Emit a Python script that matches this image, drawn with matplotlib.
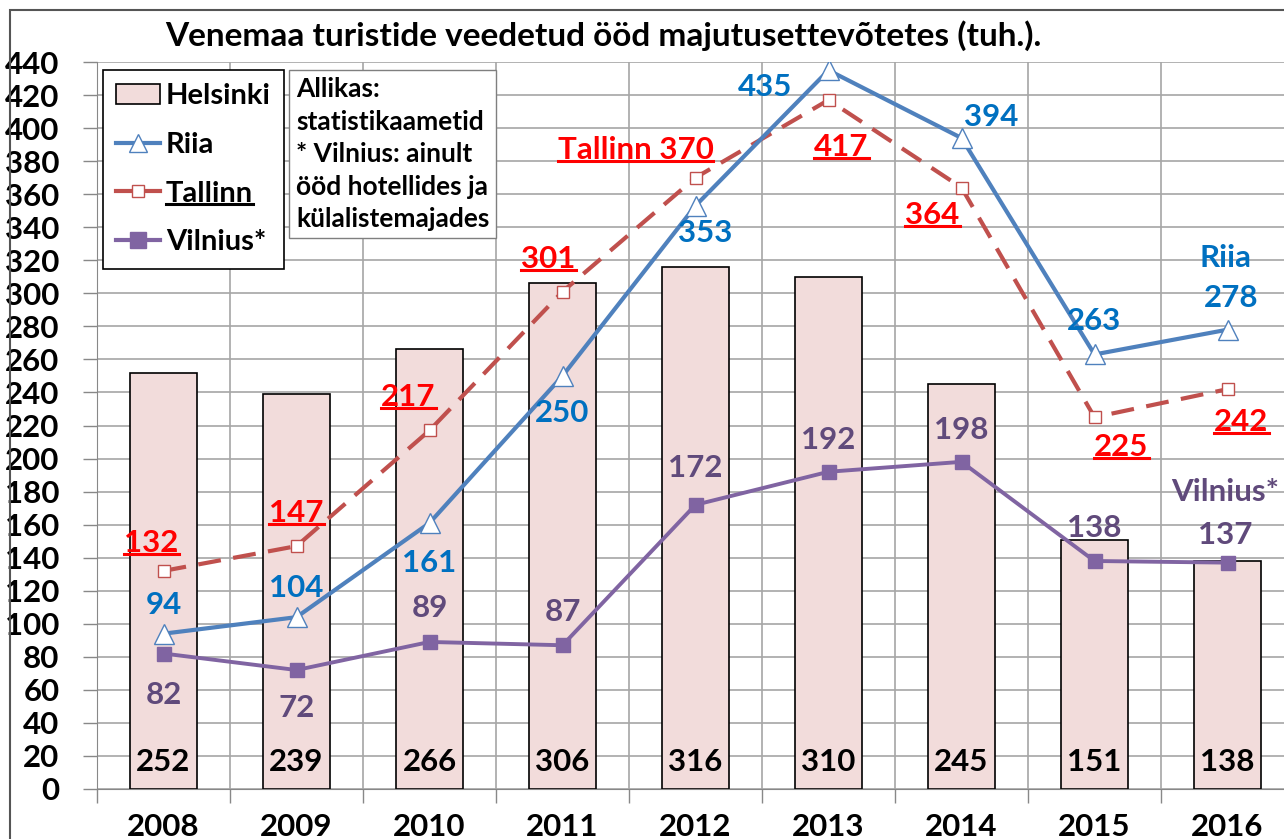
import numpy as np
import matplotlib
matplotlib.use("Agg")
import matplotlib.pyplot as plt
from matplotlib.patches import Patch, Rectangle
from matplotlib.lines import Line2D

plt.rcParams['font.family'] = ['Lato', 'DejaVu Sans']
plt.rcParams['font.weight'] = 'bold'

# data
years = ['2008', '2009', '2010', '2011', '2012', '2013', '2014', '2015', '2016']
helsinki = [252, 239, 266, 306, 316, 310, 245, 151, 138]
riia = [94, 104, 161, 250, 353, 435, 394, 263, 278]
tallinn = [132, 147, 217, 301, 370, 417, 364, 225, 242]
vilnius = [82, 72, 89, 87, 172, 192, 198, 138, 137]

# label offsets in pixels (dx, dy)
riia_off = [(0, 29), (0, 29), (0, -40), (0, -37), (10, -27), (-63, -17), (30, 21), (0, 33), (4, 32)]
tallinn_off = [(-12, 28), (0, 33), (-21, 33), (-14, 33), (-60, 28), (13, -47), (-29, -27), (27, -30), (14, -33)]
vilnius_off = [(0, -41), (0, -38), (0, 34), (0, 33), (0, 37), (0, 32), (0, 32), (0, 33), (-2, 28)]

c_bar = '#F2DCDB'
c_riia = '#4F81BD'
c_riia_txt = '#0070C0'
c_tal = '#C0504D'
c_tal_txt = '#FF0000'
c_vil = '#8064A2'
c_vil_txt = '#604A7B'

FS = 22.5

W, H = 1284, 839
fig = plt.figure(figsize=(W / 100, H / 100), dpi=100)
ax = fig.add_axes([97 / W, 1 - 789 / H, (133 * 9) / W, (789 - 62) / H])

x = np.arange(len(years))
ax.bar(x, helsinki, width=0.51, color=c_bar, edgecolor='black', linewidth=1.2, zorder=2)
ax.plot(x, riia, color=c_riia, lw=3.0, marker='^', ms=14, mfc='white', mec=c_riia,
        mew=1.0, zorder=4)
ax.plot(x, tallinn, color=c_tal, lw=3.0, dashes=(5.5, 3), marker='s', ms=8, mfc='white',
        mec=c_tal, mew=1.0, zorder=3)
ax.plot(x, vilnius, color=c_vil, lw=2.8, marker='s', ms=10, mfc=c_vil, mec=c_vil, zorder=3)

ax.set_xlim(-0.5, 8.5)
ax.set_ylim(0, 440)
ax.set_yticks(np.arange(0, 441, 20))
ax.set_xticks(x)
ax.set_xticklabels(years)
ax.set_xticks(np.arange(-0.5, 8.6, 1), minor=True)
ax.tick_params(axis='x', which='major', length=0, pad=17, labelsize=FS)
ax.tick_params(axis='x', which='minor', length=10, color='#888888', width=1)
ax.tick_params(axis='y', length=10, color='#888888', width=1, pad=17, labelsize=FS)
ax.grid(axis='y', color='#A6A6A6', lw=1.2, zorder=0)
ax.grid(axis='x', which='minor', color='#A6A6A6', lw=1.2, zorder=0)
for s in ['top', 'right']:
    ax.spines[s].set_visible(False)
ax.spines['left'].set_color('#888888')
ax.spines['bottom'].set_color('#888888')
ax.set_axisbelow(True)

# labels
for i, v in enumerate(helsinki):
    ax.text(i, 16.5, str(v), ha='center', va='center', fontsize=FS, color='black', zorder=5)

underlined = []
for i, v in enumerate(riia):
    ax.annotate(str(v), (i, v), xytext=riia_off[i], textcoords='offset pixels',
                ha='center', va='center', fontsize=FS, color=c_riia_txt, zorder=5)
for i, v in enumerate(tallinn):
    s = 'Tallinn 370' if i == 4 else str(v)
    t = ax.annotate(s, (i, v), xytext=tallinn_off[i], textcoords='offset pixels',
                    ha='center', va='center', fontsize=FS, color=c_tal_txt, zorder=5)
    underlined.append((t, c_tal_txt))
for i, v in enumerate(vilnius):
    ax.annotate(str(v), (i, v), xytext=vilnius_off[i], textcoords='offset pixels',
                ha='center', va='center', fontsize=FS, color=c_vil_txt, zorder=5)
ax.annotate('Riia', (8, riia[8]), xytext=(-2, 72), textcoords='offset pixels',
            ha='center', va='center', fontsize=FS, color=c_riia_txt, zorder=5)
ax.annotate('Vilnius*', (8, vilnius[8]), xytext=(-2, 71), textcoords='offset pixels',
            ha='center', va='center', fontsize=FS, color=c_vil_txt, zorder=5)

# legend
handles = [
    Patch(facecolor=c_bar, edgecolor='black', linewidth=1.2),
    Line2D([], [], color=c_riia, lw=3, marker='^', ms=13, mfc='white', mec=c_riia, mew=1),
    Line2D([], [], color=c_tal, lw=3, marker='s', ms=9, mfc='white', mec=c_tal, mew=1),
    Line2D([], [], color=c_vil, lw=3, marker='s', ms=11, mfc=c_vil, mec=c_vil),
]
leg = ax.legend(handles, ['Helsinki', 'Riia', 'Tallinn', 'Vilnius*'],
                loc='upper left', bbox_to_anchor=(103 / W, 1 - 70 / H),
                bbox_transform=fig.transFigure, fontsize=21, frameon=True,
                fancybox=False, edgecolor='black', framealpha=1,
                handlelength=1.5, handletextpad=0.2, labelspacing=0.78,
                borderpad=0.45, borderaxespad=0)
leg.get_frame().set_linewidth(1.2)
leg.set_zorder(10)
underlined.append((leg.get_texts()[2], 'black'))

# source text box
fig.text(296 / W, 1 - 77 / H,
         'Allikas:\nstatistikaametid\n* Vilnius: ainult\nööd hotellides ja\nkülalistemajades',
         ha='left', va='top', fontsize=19, linespacing=1.43, color='black', zorder=11,
         bbox=dict(boxstyle='square,pad=0.25', facecolor='white', edgecolor='#7F7F7F', lw=1))

fig.text(603 / W, 1 - 36 / H, 'Venemaa turistide veedetud ööd majutusettevõtetes (tuh.).',
         ha='center', va='center', fontsize=24, color='black')

# outer chart border
fig.add_artist(Rectangle((10 / W, -0.1), 1.2, 1 - 10 / H + 0.1, transform=fig.transFigure,
                         fill=False, edgecolor='#555555', lw=1.5))

# underline selected texts
fig.canvas.draw()
r = fig.canvas.get_renderer()
inv = fig.transFigure.inverted()
for t, c in underlined:
    bb = t.get_window_extent(r)
    yline = bb.y0 + 3
    p0 = inv.transform((bb.x0, yline))
    p1 = inv.transform((bb.x1, yline))
    fig.add_artist(Line2D([p0[0], p1[0]], [p0[1], p1[1]], transform=fig.transFigure,
                          color=c, lw=2.2, zorder=12))

fig.savefig('out.png', dpi=100)
